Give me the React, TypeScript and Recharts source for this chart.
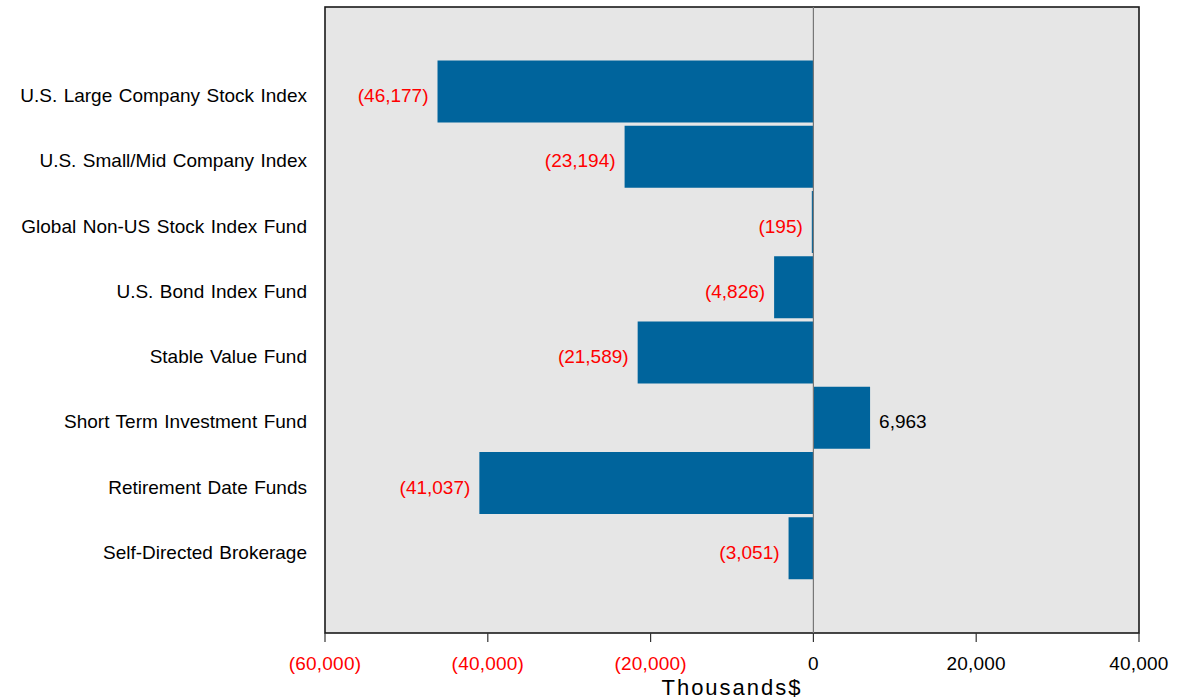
// Horizontal bar chart: net flows by fund, in thousands of dollars

import {
  BarChart,
  Bar,
  XAxis,
  YAxis,
  CartesianGrid,
  ReferenceLine,
  LabelList,
  usePlotArea,
} from "recharts";

const categories = [
  "U.S. Large Company Stock Index",
  "U.S. Small/Mid Company Index",
  "Global Non-US Stock Index Fund",
  "U.S. Bond Index Fund",
  "Stable Value Fund",
  "Short Term Investment Fund",
  "Retirement Date Funds",
  "Self-Directed Brokerage",
];

const values = [-46177, -23194, -195, -4826, -21589, 6963, -41037, -3051];

const xTicks = [-60000, -40000, -20000, 0, 20000, 40000];

const data = categories.map((name, i) => ({ name, value: values[i] }));

const FONT = "'Liberation Sans', Arial, sans-serif";
const BAR_COLOR = "#00649c";

const fmt = (v: number) => {
  const s = Math.abs(v).toLocaleString("en-US");
  return v < 0 ? `(${s})` : s;
};

function XTick(props: any) {
  const { x, y, payload } = props;
  const v = payload.value as number;
  return (
    <text
      x={x}
      y={y}
      dy="0.71em"
      textAnchor="middle"
      fontSize={19}
      letterSpacing={0.2}
      fontFamily={FONT}
      fill={v < 0 ? "#ff0000" : "#000"}
    >
      {fmt(v)}
    </text>
  );
}

function YTick(props: any) {
  const { x, y, payload } = props;
  return (
    <text
      x={x}
      y={y + 4}
      dominantBaseline="central"
      textAnchor="end"
      fontSize={19}
      wordSpacing={1.2}
      fontFamily={FONT}
      fill="#000"
    >
      {payload.value}
    </text>
  );
}

function ValueLabel(props: any) {
  const { x, y, width, height, value } = props;
  const v = value as number;
  const left = Math.min(x, x + width);
  const right = Math.max(x, x + width);
  const neg = v < 0;
  return (
    <text
      x={neg ? left - 9 : right + 9}
      y={y + height / 2 + 4}
      dominantBaseline="central"
      textAnchor={neg ? "end" : "start"}
      fontSize={19}
      fontFamily={FONT}
      fill={neg ? "#ff0000" : "#000"}
    >
      {fmt(v)}
    </text>
  );
}

// black frame around the whole plot area
function PlotBorder() {
  const area = usePlotArea();
  if (!area) return null;
  return (
    <rect
      x={area.x}
      y={area.y}
      width={area.width}
      height={area.height}
      fill="none"
      stroke="#1a1a1a"
      strokeWidth={1.6}
    />
  );
}

export default function App() {
  return (
    <div style={{ position: "fixed", left: 0, top: 0, background: "#fff" }}>
      <BarChart
        width={1186}
        height={699}
        data={data}
        layout="vertical"
        margin={{ top: 7, right: 47, left: 0, bottom: 26 }}
        barCategoryGap={1.5}
      >
        <CartesianGrid horizontal={false} vertical={false} fill="#e6e6e6" />
        <XAxis
          type="number"
          domain={[-60000, 40000]}
          ticks={xTicks}
          allowDataOverflow
          height={40}
          axisLine={false}
          tickSize={9}
          tickMargin={15}
          tickLine={{ stroke: "#333", strokeWidth: 1.2 }}
          tick={<XTick />}
          label={{
            value: "Thousands$",
            position: "bottom",
            offset: 6,
            fontSize: 22,
            fontFamily: FONT,
            fill: "#000",
            letterSpacing: 2,
          }}
        />
        <YAxis
          type="category"
          dataKey="name"
          width={325}
          axisLine={false}
          tickLine={false}
          tickSize={16}
          tickMargin={2}
          padding={{ top: 52, bottom: 52 }}
          tick={<YTick />}
          interval={0}
        />
        <Bar dataKey="value" fill={BAR_COLOR} isAnimationActive={false}>
          <LabelList dataKey="value" content={<ValueLabel />} />
        </Bar>
        <ReferenceLine x={0} stroke="#777" strokeWidth={1.2} />
        <PlotBorder />
      </BarChart>
    </div>
  );
}
